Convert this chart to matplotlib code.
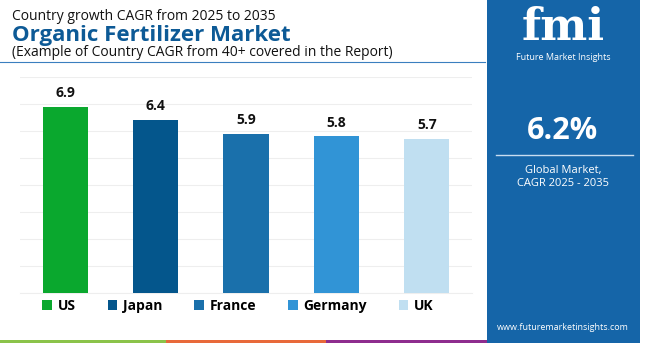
import matplotlib.pyplot as plt
from matplotlib.patches import Patch, Rectangle
from matplotlib.lines import Line2D

countries = ['US', 'Japan', 'France', 'Germany', 'UK']
cagr = [6.9, 6.4, 5.9, 5.8, 5.7]
colors = ['#0aa82e', '#04568c', '#1a70ab', '#3194d6', '#c0dff1']
global_cagr = '6.2%'

W, H = 650, 343
plt.rcParams['font.family'] = ['Open Sans', 'DejaVu Sans']

fig = plt.figure(figsize=(W / 100, H / 100), dpi=100)
fig.patch.set_facecolor('white')


def fx(px):
    return px / W


def fy(py):
    return 1 - py / H


# chart area
ax = fig.add_axes([fx(20), fy(293), fx(452), (293 - 77) / H])
x = range(len(countries))
bars = ax.bar(x, cagr, width=0.5, color=colors, zorder=3)
for b, v in zip(bars, cagr):
    ax.text(b.get_x() + b.get_width() / 2, v + 0.25, f'{v}', ha='center', va='bottom',
            fontsize=10, fontweight='bold', color='#111111')
ax.set_xlim(-0.5, 4.5)
ax.set_ylim(0, 8)
ax.set_yticks(range(0, 9))
ax.grid(axis='y', color='#eeeeee', linewidth=0.8, zorder=0)
ax.tick_params(left=False, bottom=False, labelleft=False, labelbottom=False)
for s in ['top', 'right', 'left']:
    ax.spines[s].set_visible(False)
ax.spines['bottom'].set_color('#eeeeee')

# legend
handles = [Patch(facecolor=c, edgecolor='none') for c in colors]
leg = fig.legend(handles, countries, loc='center', bbox_to_anchor=(fx(238), fy(306)),
                 ncol=5, frameon=False, handlelength=0.7, handleheight=0.7,
                 handletextpad=0.4, columnspacing=2.3,
                 prop={'weight': 'bold', 'size': 10})

# titles
fig.text(fx(12), fy(16), 'Country growth CAGR from 2025 to 2035', fontsize=10,
         color='#111111', va='center', ha='left')
fig.text(fx(12), fy(35), 'Organic Fertilizer Market', fontsize=16, fontweight='bold',
         color='#0d5a96', va='center', ha='left')
fig.text(fx(12), fy(52), '(Example of Country CAGR from 40+ covered in the Report)',
         fontsize=10, color='#111111', va='center', ha='left')
fig.add_artist(Line2D([0, fx(485)], [fy(62), fy(62)], color='#3a7fbf', linewidth=0.8))

# bottom stripe
for x0, x1, c in [(0, 166, '#8bc34a'), (166, 326, '#e8693a'), (326, 487, '#8e2d8e')]:
    fig.add_artist(Rectangle((fx(x0), 0), fx(x1 - x0), 3 / H, color=c, lw=0))

# right panel
fig.add_artist(Rectangle((fx(487), 0), fx(640 - 487), 1, color='#1565a8', lw=0))
pc = fx(563)
fig.text(pc, fy(28), 'fmi', fontsize=32, fontweight='bold', color='white',
         ha='center', va='center', family='DejaVu Serif')
fig.text(pc, fy(57), 'Future Market Insights', fontsize=6.5, color='white',
         ha='center', va='center')
fig.text(pc, fy(131), global_cagr, fontsize=22, fontweight='bold', color='white',
         ha='center', va='center')
fig.add_artist(Line2D([fx(496), fx(633)], [fy(155), fy(155)], color='#c8ddf0', linewidth=1))
fig.text(pc, fy(170), 'Global Market,', fontsize=8, color='white', ha='center', va='center')
fig.text(pc, fy(184), 'CAGR 2025 - 2035', fontsize=8, color='white', ha='center', va='center')
fig.text(pc, fy(327), 'www.futuremarketinsights.com', fontsize=6.5, color='white',
         ha='center', va='center')

fig.savefig('out.png', dpi=100)
